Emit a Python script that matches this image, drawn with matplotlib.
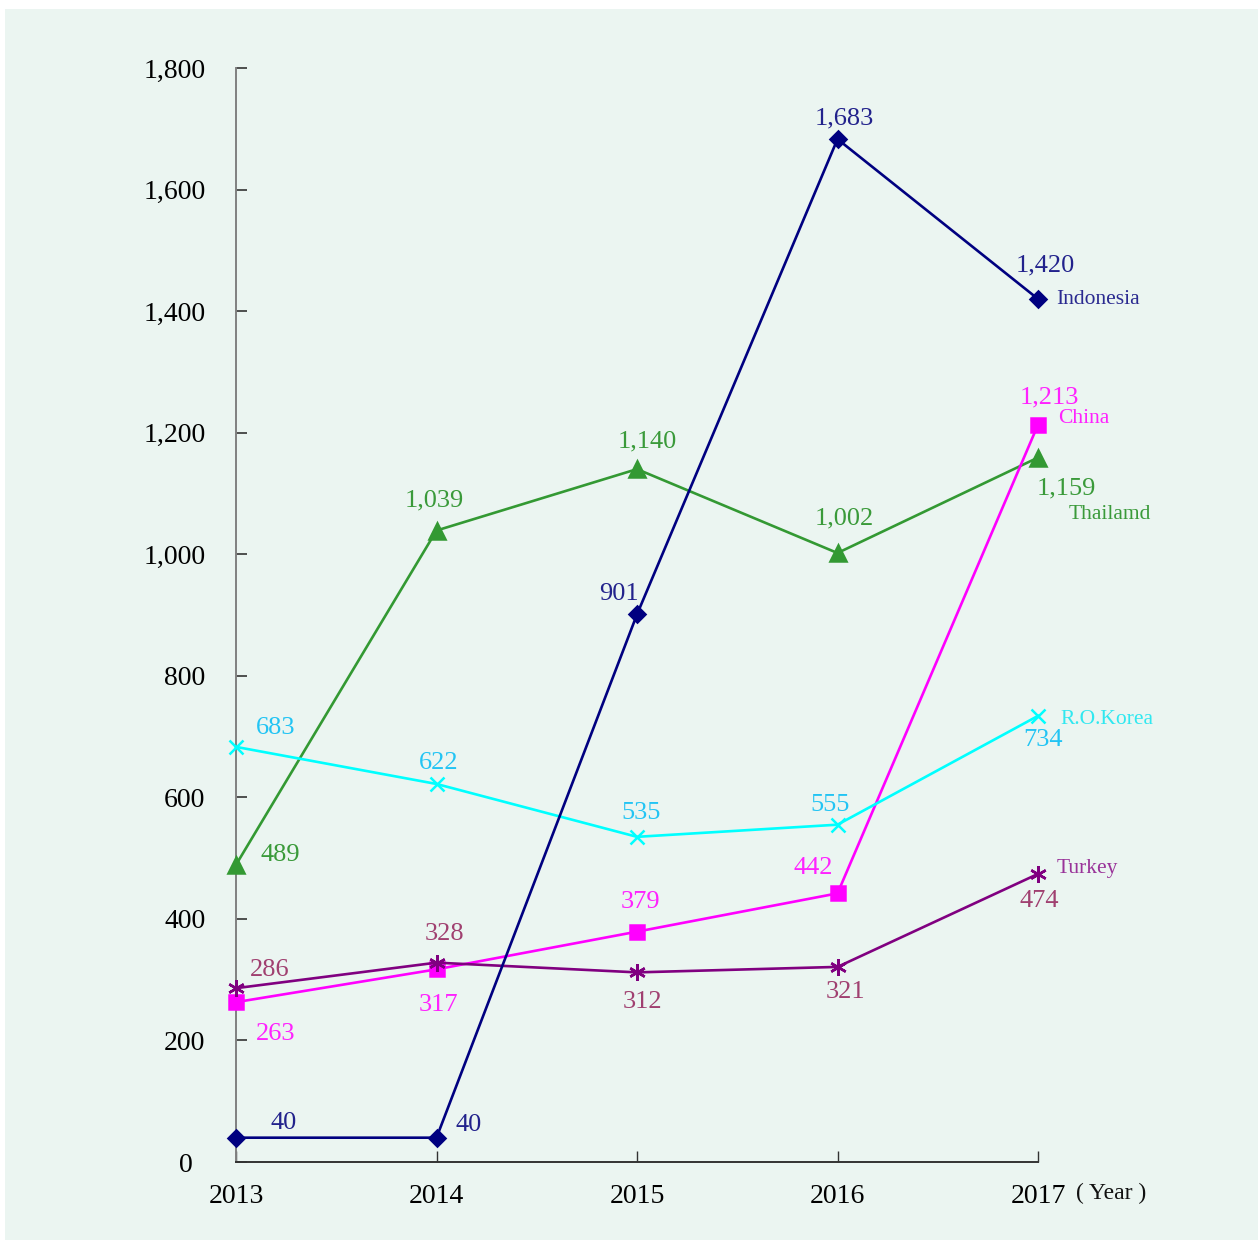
import matplotlib.pyplot as plt
import matplotlib.transforms as mtransforms
from matplotlib.patches import Rectangle
from matplotlib.ticker import FuncFormatter

plt.rcParams["font.family"] = ["Liberation Serif", "DejaVu Serif"]

years = [2013, 2014, 2015, 2016, 2017]
indonesia = [40, 40, 901, 1683, 1420]
thailand = [489, 1039, 1140, 1002, 1159]
china = [263, 317, 379, 442, 1213]
korea = [683, 622, 535, 555, 734]
turkey = [286, 328, 312, 321, 474]
y_ticks = [0, 200, 400, 600, 800, 1000, 1200, 1400, 1600, 1800]

# name, values, line colour, marker, marker size, value colour, name colour,
# value label offsets (px), name label offset (px)
series = [
    ("Thailamd", thailand, "#339933", "^", 11, "#3a9a3a", "#3a9a3a",
     [(44, 12), (-2, 32), (10, 30), (7, 37), (28, -29)], (31, -56)),
    ("China", china, "#ff00ff", "s", 10, "#ff22ff", "#ff22ff",
     [(40, -30), (2, -34), (3, 32), (-24, 27), (11, 29)], (20, 7)),
    ("R.O.Korea", korea, "#00ffff", "x", 10, "#22c4f4", "#30e8f0",
     [(40, 21), (2, 23), (4, 26), (-7, 22), (5, -22)], (22, -3)),
    ("Turkey", turkey, "#800080", (6, 2, 0), 12, "#a04070", "#993399",
     [(34, 20), (8, 31), (5, -28), (8, -23), (1, -25)], (19, 6)),
    ("Indonesia", indonesia, "#000080", "D", 8, "#22228c", "#2a2a90",
     [(48, 17), (32, 15), (-18, 22), (7, 23), (7, 36)], (18, 0)),
]


def main():
    fig = plt.figure(figsize=(12.58, 12.40), dpi=100)
    fig.patches.append(Rectangle((5 / 1258, 0), 1, 1 - 9 / 1240, transform=fig.transFigure,
                                 facecolor="#ebf5f1", edgecolor="none", zorder=-10))
    ax = fig.add_axes([236 / 1258, 1 - 1162 / 1240, (1038 - 236) / 1258, (1162 - 68) / 1240])
    ax.set_facecolor("none")

    for name, vals, color, marker, ms, vcol, ncol, offs, noff in series:
        ax.plot(years, vals, color=color, lw=1.9, marker=marker, ms=ms,
                mew=1.8, clip_on=False, zorder=3)
        for x, v, off in zip(years, vals, offs):
            ax.annotate(f"{v:,}", (x, v), xytext=(off[0], off[1] - 2), textcoords="offset pixels",
                        ha="center", va="center", fontsize=19, color=vcol)
        ax.annotate(name, (years[-1], vals[-1]), xytext=(noff[0], noff[1] - 1),
                    textcoords="offset pixels",
                    ha="left", va="center", fontsize=15.5, color=ncol)

    ax.set_xlim(2013, 2017)
    ax.set_ylim(0, 1800)
    ax.set_xticks(years)
    ax.set_yticks(y_ticks)
    ax.yaxis.set_major_formatter(FuncFormatter(lambda v, p: f"{int(v):,}"))
    for s in ("top", "right"):
        ax.spines[s].set_visible(False)
    ax.spines["left"].set_color("#808080")
    ax.spines["left"].set_linewidth(1.4)
    ax.spines["bottom"].set_color("#333333")
    ax.spines["bottom"].set_linewidth(1.4)
    ax.tick_params(axis="y", direction="in", length=8, width=1.2, color="#333333",
                   labelsize=20, pad=22)
    ax.tick_params(axis="x", direction="in", length=8, width=1.0, color="#333333",
                   labelsize=20, pad=16)
    ax.annotate("( Year )", (2017, 0), xytext=(38, -31), textcoords="offset pixels",
                ha="left", va="center", fontsize=17, color="#111111", annotation_clip=False)

    # the zero label sits a little further left in the original
    zero_lab = ax.yaxis.get_major_ticks()[0].label1
    zero_lab.set_transform(zero_lab.get_transform()
                           + mtransforms.ScaledTranslation(-0.13, 0, fig.dpi_scale_trans))

    fig.savefig("out.png", dpi=100)


if __name__ == "__main__":
    main()
